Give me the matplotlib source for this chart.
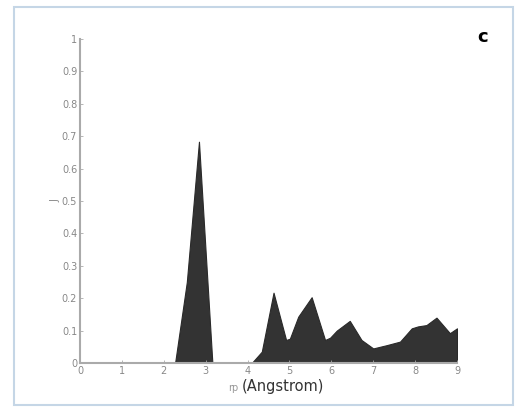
import numpy as np
import matplotlib
matplotlib.use("Agg")
import matplotlib.pyplot as plt
from matplotlib.patches import Rectangle

# distance r_p (Angstrom) and J values
r_p = [0, 2.27, 2.55, 2.84, 3.16, 4.1, 4.34, 4.62, 4.92, 5.01, 5.21, 5.53,
       5.85, 5.97, 6.13, 6.44, 6.72, 7.0, 7.32, 7.64, 7.92, 8.07, 8.27,
       8.51, 8.83, 9.0]
J = [0, 0, 0.25, 0.683, 0, 0, 0.035, 0.217, 0.071, 0.075, 0.143, 0.203,
     0.071, 0.078, 0.10, 0.13, 0.071, 0.045, 0.055, 0.066, 0.107, 0.113,
     0.117, 0.14, 0.092, 0.107]
xticks = [0, 1, 2, 3, 4, 5, 6, 7, 8, 9]
yticks = [0, 0.1, 0.2, 0.3, 0.4, 0.5, 0.6, 0.7, 0.8, 0.9, 1]
ytick_labels = ["0", "0.1", "0.2", "0.3", "0.4", "0.5", "0.6", "0.7", "0.8", "0.9", "1"]

fig = plt.figure(figsize=(5.15, 4.07), dpi=100)
fig.patches.append(Rectangle((14 / 515, 2 / 407), 499 / 515, 398 / 407,
                             transform=fig.transFigure, fill=False,
                             edgecolor="#c5d6e6", linewidth=1.5))

ax = fig.add_axes([80 / 515, 1 - 363 / 407, 377 / 515, 324 / 407])
ax.fill_between(r_p, J, 0, color="#333333", linewidth=0.8, edgecolor="#2a2a2a")

ax.set_xlim(0, 9)
ax.set_ylim(0, 1)
ax.set_xticks(xticks)
ax.set_yticks(yticks)
ax.set_yticklabels(ytick_labels)
ax.tick_params(direction="in", length=2, width=0.6, colors="#aaaaaa",
               labelcolor="#888888", labelsize=7, pad=2)
for s in ["top", "right"]:
    ax.spines[s].set_visible(False)
for s in ["left", "bottom"]:
    ax.spines[s].set_color("#aaaaaa")
    ax.spines[s].set_linewidth(1.5)

ax.set_ylabel("J", fontsize=7, color="#888888", labelpad=1)
fig.text(233 / 515, 1 - 388 / 407, "rp", fontsize=7, color="#999999",
         ha="center", va="center")
fig.text(283 / 515, 1 - 386 / 407, "(Angstrom)", fontsize=10.5,
         color="#333333", ha="center", va="center")
fig.text(483 / 515, 1 - 37 / 407, "c", fontsize=13, fontweight="bold",
         color="black", ha="center", va="center")

fig.savefig("out.png", dpi=100)
